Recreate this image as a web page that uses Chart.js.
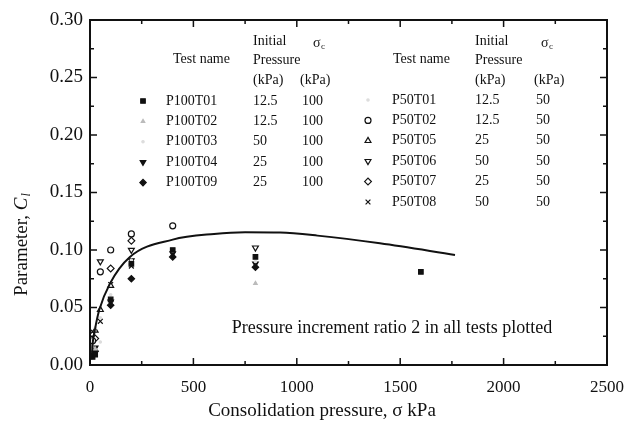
<!DOCTYPE html>
<html>
<head>
<meta charset="utf-8">
<script src="https://cdn.jsdelivr.net/npm/chart.js@4.4.1/dist/chart.umd.min.js"></script>
<style>
  html, body { margin: 0; padding: 0; background: #fff; }
  #wrap { width: 630px; height: 427px; }
</style>
</head>
<body>
<div id="wrap"><canvas id="c1"></canvas></div>
<script>
// Data
var xTicks = [0, 500, 1000, 1500, 2000, 2500];
var yTicks = [0, 0.05, 0.10, 0.15, 0.20, 0.25, 0.30];

var p100t01X = [12.5, 25, 100, 200, 400, 800, 1600];
var p100t01Y = [0.007, 0.009, 0.057, 0.088, 0.100, 0.094, 0.081];
var p100t02X = [12.5, 25, 800];
var p100t02Y = [0.016, 0.014, 0.071];
var p100t03X = [50, 100, 200, 400, 800];
var p100t03Y = [0.020, 0.061, 0.091, 0.099, 0.090];
var p100t04X = [25, 100, 200, 400, 800];
var p100t04Y = [0.015, 0.055, 0.091, 0.097, 0.088];
var p100t09X = [25, 100, 200, 400, 800];
var p100t09Y = [0.012, 0.052, 0.075, 0.094, 0.085];

var p50t01X = [12.5, 25, 50];
var p50t01Y = [0.022, 0.032, 0.041];
var p50t02X = [12.5, 50, 100, 200, 400];
var p50t02Y = [0.021, 0.081, 0.100, 0.114, 0.121];
var p50t05X = [25, 50, 100];
var p50t05Y = [0.030, 0.048, 0.069];
var p50t06X = [50, 200, 800];
var p50t06Y = [0.090, 0.100, 0.102];
var p50t07X = [25, 100, 200];
var p50t07Y = [0.023, 0.084, 0.108];
var p50t08X = [12.5, 50, 100, 200];
var p50t08Y = [0.029, 0.038, 0.070, 0.086];

// fitted curve
var curveX = [8, 13, 24, 45, 97, 193, 400, 600, 750, 919, 1100, 1402, 1765];
var curveY = [0.005, 0.019, 0.031, 0.048, 0.071, 0.094, 0.109, 0.114, 0.1155, 0.1152, 0.1125, 0.1058, 0.0957];

var testNames = ["P100T01", "P100T02", "P100T03", "P100T04", "P100T09",
                 "P50T01", "P50T02", "P50T05", "P50T06", "P50T07", "P50T08"];
var initPressures = ["12.5", "12.5", "50", "25", "25", "12.5", "12.5", "25", "50", "25", "50"];
var sigmaC = ["100", "100", "100", "100", "100", "50", "50", "50", "50", "50", "50"];
var seriesX = [p100t01X, p100t02X, p100t03X, p100t04X, p100t09X, p50t01X, p50t02X, p50t05X, p50t06X, p50t07X, p50t08X];
var seriesY = [p100t01Y, p100t02Y, p100t03Y, p100t04Y, p100t09Y, p50t01Y, p50t02Y, p50t05Y, p50t06Y, p50t07Y, p50t08Y];

// marker styles per test
var markers = [
    { style: "rect", rot: 0, r: 3.2, fill: "#111", line: "#111" },
    { style: "triangle", rot: 0, r: 2, fill: "#bbb", line: "#bbb" },
    { style: "circle", rot: 0, r: 1.2, fill: "#ddd", line: "#ddd" },
    { style: "triangle", rot: 180, r: 3.2, fill: "#111", line: "#111" },
    { style: "rectRot", rot: 0, r: 3.2, fill: "#111", line: "#111" },
    { style: "circle", rot: 0, r: 1.2, fill: "#ddd", line: "#ddd" },
    { style: "circle", rot: 0, r: 3, fill: "#fff", line: "#111" },
    { style: "triangle", rot: 0, r: 3.4, fill: "#fff", line: "#111" },
    { style: "triangle", rot: 180, r: 3.4, fill: "#fff", line: "#111" },
    { style: "rectRot", rot: 0, r: 3.4, fill: "#fff", line: "#111" },
    { style: "crossRot", rot: 0, r: 3.4, fill: "#111", line: "#111" }
];

var SERIF = "'Liberation Serif', 'DejaVu Serif', serif";

function toPoints(xs, ys) {
    var pts = [];
    for (var i = 0; i < xs.length; i++) pts.push({ x: xs[i], y: ys[i] });
    return pts;
}

var datasets = [{
    type: "line",
    label: "fit",
    data: toPoints(curveX, curveY),
    borderColor: "#111",
    borderWidth: 2,
    pointRadius: 0,
    cubicInterpolationMode: "monotone",
    fill: false
}];
testNames.forEach(function (name, i) {
    var m = markers[i];
    datasets.push({
        type: "scatter",
        label: name,
        data: toPoints(seriesX[i], seriesY[i]),
        pointStyle: m.style,
        rotation: m.rot,
        pointRadius: m.r,
        backgroundColor: m.fill,
        borderColor: m.line,
        borderWidth: 1.2
    });
});

// frame, inward ticks, legend table and labels
var decorPlugin = {
    id: "decor",
    afterDraw: function (chart) {
        var ctx = chart.ctx;
        var a = chart.chartArea;
        var xs = chart.scales.x, ys = chart.scales.y;
        ctx.save();
        ctx.strokeStyle = "#111";
        ctx.lineWidth = 2;
        ctx.strokeRect(a.left, a.top, a.right - a.left, a.bottom - a.top);

        ctx.lineWidth = 1.5;
        ctx.beginPath();
        for (var v = 0; v <= 2500; v += 250) {
            var px = xs.getPixelForValue(v);
            var len = (v % 500 === 0) ? 7 : 4;
            ctx.moveTo(px, a.bottom); ctx.lineTo(px, a.bottom - len);
            ctx.moveTo(px, a.top); ctx.lineTo(px, a.top + len);
        }
        for (var k = 0; k <= 12; k++) {
            var py = ys.getPixelForValue(k * 0.025);
            var l2 = (k % 2 === 0) ? 7 : 4;
            ctx.moveTo(a.left, py); ctx.lineTo(a.left + l2, py);
            ctx.moveTo(a.right, py); ctx.lineTo(a.right - l2, py);
        }
        ctx.stroke();

        // legend tables
        ctx.fillStyle = "#111";
        ctx.textBaseline = "middle";
        ctx.textAlign = "left";
        ctx.font = "14px " + SERIF;
        var tables = [
            { mark: 143, name: 166, head: 173, pres: 253, sig: 300, sigHead: 313, rows: [0, 1, 2, 3, 4], y0: 101 },
            { mark: 368, name: 392, head: 393, pres: 475, sig: 534, sigHead: 541, rows: [5, 6, 7, 8, 9, 10], y0: 100 }
        ];
        tables.forEach(function (t) {
            ctx.fillText("Test name", t.head, 59);
            ctx.fillText("Initial", t.pres, 41);
            ctx.fillText("Pressure", t.pres, 60);
            ctx.fillText("(kPa)", t.pres, 80);
            ctx.fillText("(kPa)", t.sig, 80);
            ctx.fillText("\u03c3", t.sigHead, 43);
            ctx.font = "9px " + SERIF;
            ctx.fillText("c", t.sigHead + 8, 47);
            ctx.font = "14px " + SERIF;
            t.rows.forEach(function (idx, j) {
                var ry = t.y0 + j * 20.4;
                var m = markers[idx];
                ctx.fillStyle = m.fill;
                ctx.strokeStyle = m.line;
                ctx.lineWidth = 1.2;
                Chart.helpers.drawPoint(ctx, { pointStyle: m.style, rotation: m.rot, radius: m.r, borderWidth: 1.2 }, t.mark, ry);
                ctx.fillStyle = "#111";
                ctx.fillText(testNames[idx], t.name, ry);
                ctx.fillText(initPressures[idx], t.pres, ry);
                ctx.fillText(sigmaC[idx], t.sig + 2, ry);
            });
        });

        // note inside plot
        ctx.textAlign = "center";
        ctx.font = "18px " + SERIF;
        ctx.fillText("Pressure increment ratio 2 in all tests plotted", 392, 328);

        // x title
        ctx.font = "19px " + SERIF;
        ctx.fillText("Consolidation pressure, \u03c3 kPa", 322, 411);

        // y title
        ctx.translate(22, 245);
        ctx.rotate(-Math.PI / 2);
        ctx.textAlign = "left";
        var s1 = "Parameter, ";
        ctx.font = "19px " + SERIF;
        var w1 = ctx.measureText(s1).width;
        ctx.font = "italic 19px " + SERIF;
        var w2 = ctx.measureText("C").width;
        ctx.font = "italic 12px " + SERIF;
        var w3 = ctx.measureText("l").width;
        var x0 = -(w1 + w2 + w3) / 2;
        ctx.font = "19px " + SERIF;
        ctx.fillText(s1, x0, 0);
        ctx.font = "italic 19px " + SERIF;
        ctx.fillText("C", x0 + w1, 0);
        ctx.font = "italic 12px " + SERIF;
        ctx.fillText("l", x0 + w1 + w2 + 1, 5);
        ctx.restore();
    }
};

var ctx1 = document.getElementById("c1").getContext("2d");
var myChart1 = new Chart(ctx1, {
    type: "scatter",
    data: { datasets: datasets },
    options: {
        responsive: true,
        maintainAspectRatio: false,
        animation: false,
        layout: { padding: { left: 0, right: 23, top: 20, bottom: 0 } },
        plugins: { legend: { display: false }, tooltip: { enabled: false } },
        scales: {
            x: {
                type: "linear",
                min: 0, max: 2500,
                afterBuildTicks: function (s) { s.ticks = xTicks.map(function (v) { return { value: v }; }); },
                afterFit: function (s) { s.height = 62; s.paddingRight = 0; },
                grid: { display: false, drawTicks: false },
                border: { display: false },
                ticks: {
                    padding: 12, color: "#111", font: { family: SERIF, size: 17 },
                    callback: function (v) { return String(v); }
                }
            },
            y: {
                type: "linear",
                min: 0, max: 0.30,
                afterBuildTicks: function (s) { s.ticks = yTicks.map(function (v) { return { value: v }; }); },
                afterFit: function (s) { s.width = 90; },
                grid: { display: false, drawTicks: false },
                border: { display: false },
                ticks: {
                    padding: 7, color: "#111", font: { family: SERIF, size: 19 },
                    callback: function (v) { return Number(v).toFixed(2); }
                }
            }
        }
    },
    plugins: [decorPlugin]
});
</script>
</body>
</html>
